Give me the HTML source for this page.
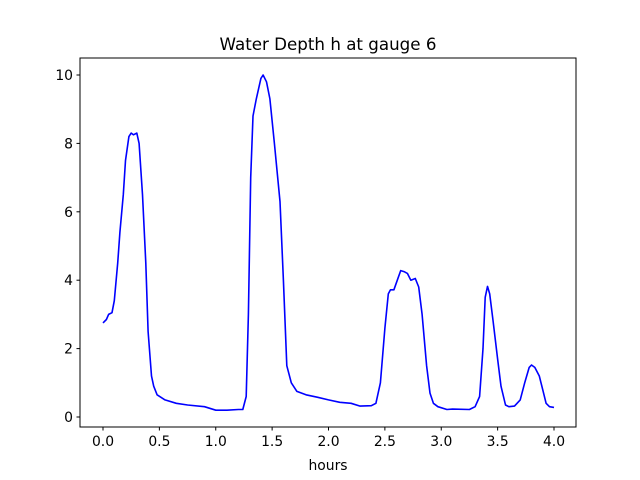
<!DOCTYPE html>
<html><head><meta charset="utf-8"><style>body{margin:0;background:#fff}svg{display:block;font-family:"DejaVu Sans","Liberation Sans",sans-serif}</style></head>
<body>
<svg id="c" width="640" height="480">
<rect width="640" height="480" fill="#fff"/>
<text x="328" y="50" text-anchor="middle" font-size="16.7">Water Depth h at gauge 6</text>
<g id="ticks"></g>
<polyline id="line" fill="none" stroke="#0000ff" stroke-width="1.6" stroke-linejoin="round"/>
<rect x="80" y="58" width="496" height="369" fill="none" stroke="#000" stroke-width="1"/>
<text x="328" y="470" text-anchor="middle" font-size="13.9">hours</text>
</svg>
<script>
const times=[0,0.03,0.05,0.08,0.1,0.13,0.15,0.18,0.2,0.23,0.25,0.27,0.3,0.32,0.35,0.38,0.4,0.43,0.45,0.48,0.55,0.65,0.75,0.9,1.0,1.1,1.2,1.24,1.27,1.29,1.31,1.33,1.36,1.4,1.42,1.45,1.48,1.52,1.57,1.6,1.63,1.67,1.72,1.8,1.9,2.0,2.1,2.2,2.28,2.38,2.42,2.46,2.5,2.53,2.55,2.58,2.61,2.64,2.67,2.7,2.73,2.77,2.8,2.83,2.87,2.9,2.93,2.97,3.05,3.1,3.25,3.3,3.34,3.37,3.39,3.41,3.43,3.46,3.5,3.53,3.57,3.6,3.65,3.7,3.74,3.78,3.8,3.83,3.87,3.9,3.93,3.96,4.0];
const depths=[2.75,2.85,3.0,3.05,3.4,4.5,5.4,6.5,7.5,8.2,8.3,8.25,8.3,8.0,6.5,4.5,2.5,1.2,0.9,0.65,0.5,0.4,0.35,0.3,0.2,0.2,0.22,0.22,0.6,3,7,8.8,9.3,9.9,10.0,9.8,9.3,8,6.3,4,1.5,1.0,0.75,0.65,0.58,0.5,0.43,0.4,0.32,0.33,0.4,1,2.6,3.6,3.72,3.72,4.0,4.28,4.25,4.2,4.0,4.05,3.8,3,1.5,0.7,0.4,0.3,0.22,0.23,0.22,0.3,0.6,2,3.5,3.82,3.6,2.8,1.7,0.9,0.35,0.3,0.32,0.5,1.0,1.45,1.52,1.45,1.2,0.8,0.4,0.3,0.28];
const xTicks=[0,0.5,1,1.5,2,2.5,3,3.5,4];
const xTickLabels=["0.0","0.5","1.0","1.5","2.0","2.5","3.0","3.5","4.0"];
const yTicks=[0,2,4,6,8,10];
const yTickLabels=["0","2","4","6","8","10"];
const X=v=>103+v*112.75, Y=v=>417-v*34.2;
const ns="http://www.w3.org/2000/svg", g=document.getElementById('ticks');
function mk(t,a){const e=document.createElementNS(ns,t);for(const k in a)e.setAttribute(k,a[k]);g.appendChild(e);return e;}
xTicks.forEach((v,i)=>{
 const l=mk('line',{x1:X(v),x2:X(v),y1:427,y2:430.5,stroke:'#000'});
 
 
 const t=mk('text',{x:X(v),y:446,'text-anchor':'middle','font-size':13.9});t.textContent=xTickLabels[i];
 
 
});
yTicks.forEach((v,i)=>{
 const l=mk('line',{x1:76.5,x2:80,y1:Y(v),y2:Y(v),stroke:'#000'});
 
 
 const t=mk('text',{x:73,y:Y(v)+5,'text-anchor':'end','font-size':13.9});t.textContent=yTickLabels[i];
 
 
});
document.getElementById('line').setAttribute('points',times.map((t,i)=>X(t).toFixed(1)+','+Y(depths[i]).toFixed(1)).join(' '));
</script>
</body></html>
